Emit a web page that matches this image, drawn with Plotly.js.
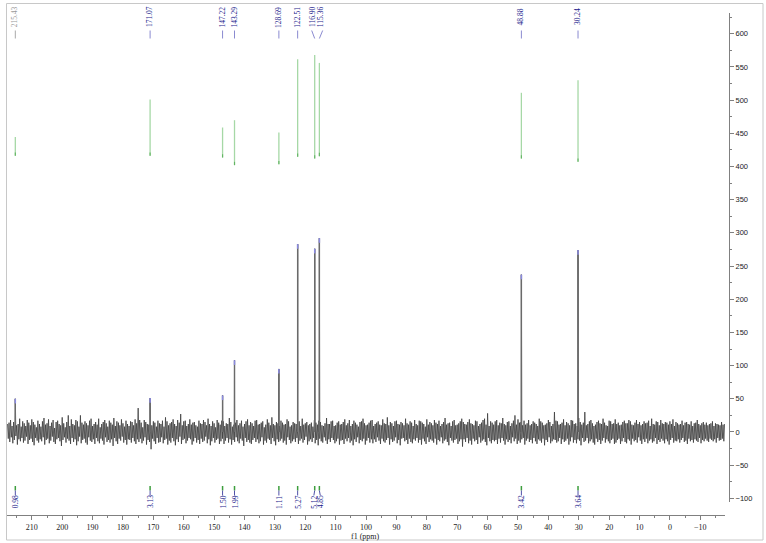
<!DOCTYPE html>
<html>
<head>
<meta charset="utf-8">
<script src="https://cdn.plot.ly/plotly-3.0.1.min.js"></script>
<style>html,body{margin:0;padding:0;background:#fff;}#chart{width:766px;height:543px;}</style>
</head>
<body>
<div id="chart"></div>
<script>
// ---- data ----
const peakPpm    = [215.43, 171.07, 147.22, 143.29, 128.69, 122.51, 116.90, 115.36, 48.88, 30.24];
const peakHeight = [50, 51, 55, 108, 95, 283, 276, 292, 237, 274];
const peakLabels = ['215.43','171.07','147.22','143.29','128.69','122.51','116.90','115.36','48.88','30.24'];
const integralLow  = [416, 416, 413.5, 402, 403.4, 414.5, 412, 415.5, 412, 407];
const integralHigh = [444.5, 501, 458.7, 469.7, 451, 561.5, 568, 556, 511, 530];
const integralLabels = ['0.98','3.13','1.50','1.99','1.11','5.27','5.12','4.85','3.42','3.64'];
const noiseStartPpm = 218;
const noiseStepPpm = 0.5;
// upward noise excursions on the 0.5 ppm grid (218, 217.5, ...)
const noiseUp = [
12,14,18,9,15,17,10,12,20,8,16,13,9,18,14,10,19,15,11,7,
17,12,8,16,21,11,13,19,9,14,18,6,15,17,12,10,22,13,7,15,
25,9,19,12,10,18,16,8,25,14,11,16,13,10,17,20,9,12,15,11,
20,7,12,15,18,13,8,17,14,11,21,9,16,14,10,19,13,8,17,12,
9,16,15,10,19,13,36,18,14,7,18,15,12,11,14,10,16,14,8,17,
13,12,17,8,22,16,10,13,15,19,12,9,18,14,27,10,16,17,9,12,
19,11,14,15,10,8,17,13,12,18,15,10,20,12,9,16,13,7,18,14,
11,17,16,9,13,12,21,15,8,11,14,18,10,13,17,8,12,16,19,10,
15,13,9,17,18,11,12,14,16,7,11,19,14,10,22,12,10,15,13,9,
17,14,11,12,19,16,8,10,15,13,12,18,16,9,20,11,13,15,10,12,
14,8,18,14,11,17,15,10,9,13,21,12,12,16,17,9,10,14,16,11,
12,15,19,10,13,18,9,12,17,14,11,8,15,16,20,13,10,11,14,17,
18,9,12,14,16,11,10,19,13,12,22,10,15,13,9,16,17,12,11,15,
13,10,20,13,11,16,14,9,18,12,10,17,16,14,12,8,19,11,15,13,
10,18,14,12,17,9,12,15,21,11,13,14,9,16,18,10,11,13,16,20,
15,12,11,15,19,13,12,10,17,16,9,12,14,18,20,11,28,9,16,14,
11,16,18,10,14,13,21,12,10,15,16,9,13,17,25,11,19,14,15,10,
17,11,13,18,10,12,16,14,12,9,20,16,14,10,11,13,18,15,9,12,
30,17,16,11,12,14,19,10,15,13,10,18,17,12,13,9,21,15,11,14,
30,10,12,16,18,13,9,11,15,17,13,12,20,14,10,9,17,16,12,13,
19,12,14,10,11,15,17,13,13,18,16,11,10,14,18,12,15,10,12,16,
13,14,17,9,20,12,11,16,15,10,18,13,12,15,14,11,16,12,19,9,
15,13,11,12,17,10,14,15,12,11,16,9,13,14,18,12,10,13,15,11,
14,10,12,13,16,9,13,12,11,10,15,11,12
];
// downward noise excursions on the in-between points (217.75, 217.25, ...)
const noiseDown = [
-10,-15,-8,-17,-12,-6,-19,-11,-14,-9,-16,-13,-7,-18,-12,-10,-15,-20,-9,-13,
-16,-11,-14,-8,-19,-12,-10,-17,-13,-7,-15,-18,-11,-9,-14,-21,-12,-8,-16,-10,
-13,-18,-9,-15,-11,-20,-14,-7,-17,-12,-10,-16,-19,-8,-13,-15,-11,-18,-9,-14,
-17,-10,-13,-19,-8,-15,-12,-16,-11,-21,-9,-14,-18,-10,-13,-7,-16,-12,-19,-11,
-12,-16,-9,-14,-18,-11,-15,-10,-17,-13,-8,-19,-12,-15,-26,-10,-14,-18,-9,-16,
-15,-8,-17,-12,-10,-19,-13,-16,-9,-14,-20,-11,-15,-7,-18,-12,-10,-17,-13,-9,
-11,-19,-14,-9,-16,-12,-18,-10,-15,-13,-7,-17,-11,-20,-14,-9,-16,-12,-10,-18,
-14,-10,-18,-13,-9,-16,-11,-19,-12,-15,-8,-14,-17,-10,-13,-21,-9,-15,-12,-16,
-18,-12,-9,-15,-11,-17,-14,-8,-19,-13,-16,-10,-12,-18,-9,-14,-20,-11,-15,-13,
-10,-16,-13,-19,-8,-12,-17,-14,-11,-15,-9,-18,-13,-10,-16,-12,-7,-19,-14,-11,
-15,-9,-17,-12,-20,-10,-14,-16,-8,-13,-18,-11,-15,-9,-12,-17,-14,-10,-19,-13,
-12,-18,-10,-14,-9,-16,-13,-20,-11,-15,-8,-17,-12,-14,-10,-19,-13,-9,-16,-11,
-17,-11,-15,-8,-13,-18,-10,-14,-16,-12,-9,-19,-11,-15,-13,-8,-17,-12,-20,-10,
-9,-14,-12,-18,-10,-15,-17,-11,-13,-9,-16,-12,-19,-10,-14,-18,-8,-15,-11,-13,
-16,-10,-19,-12,-14,-8,-17,-13,-11,-15,-20,-9,-13,-16,-12,-10,-18,-14,-11,-22,
-11,-15,-9,-17,-13,-19,-10,-14,-12,-18,-8,-16,-13,-11,-15,-20,-9,-14,-17,-12,
-14,-12,-18,-10,-16,-9,-13,-19,-11,-15,-12,-17,-8,-14,-10,-18,-13,-16,-11,-9,
-19,-13,-10,-15,-12,-17,-9,-14,-18,-11,-13,-16,-10,-20,-12,-15,-8,-17,-14,-11,
-12,-16,-14,-9,-18,-11,-15,-13,-10,-19,-14,-8,-16,-12,-17,-11,-13,-20,-9,-15,
-13,-9,-17,-14,-11,-16,-19,-10,-15,-12,-18,-13,-9,-16,-11,-14,-17,-12,-10,-18,
-16,-12,-10,-18,-14,-9,-15,-17,-11,-13,-19,-10,-14,-12,-16,-8,-13,-18,-11,-15,
-10,-17,-13,-11,-16,-14,-9,-18,-12,-15,-10,-13,-17,-11,-14,-19,-12,-9,-16,-13,
-14,-11,-16,-12,-9,-15,-13,-18,-10,-14,-12,-16,-11,-13,-15,-9,-17,-12,-14,-10,
-13,-15,-10,-12,-14,-11,-16,-9,-13,-12,-10,-14
];

// ---- build spectrum ----
let pts = noiseUp.map((v, i) => [noiseStartPpm - i * noiseStepPpm, v]);
noiseDown.forEach((v, i) => pts.push([noiseStartPpm - (i + 0.5) * noiseStepPpm, v]));
peakPpm.forEach((p, k) => {
  pts.push([p + 0.06, 0], [p, peakHeight[k]], [p - 0.06, 0]);
});
pts.sort((a, b) => b[0] - a[0]);

const spectrum = {
  x: pts.map(d => d[0]), y: pts.map(d => d[1]),
  type: 'scatter', mode: 'lines',
  line: {color: '#3c3c3c', width: 0.8},
  hoverinfo: 'skip'
};

function segs(xs, y0s, y1s) {
  const X = [], Y = [];
  xs.forEach((x, i) => { X.push(x, x, null); Y.push(y0s[i], y1s[i], null); });
  return {X, Y};
}
// peak sticks drawn a little heavier, as in the reference
const stickS = segs(peakPpm, peakHeight.map(() => 0), peakHeight);
const sticks = {x: stickS.X, y: stickS.Y, type: 'scatter', mode: 'lines',
  line: {color: '#6a6a6a', width: 1.4}, hoverinfo: 'skip'};

const tipS = segs(peakPpm, peakHeight, peakHeight.map(h => h - 7));
const tips = {x: tipS.X, y: tipS.Y, type: 'scatter', mode: 'lines',
  line: {color: '#8a8ae0', width: 1.5}, hoverinfo: 'skip'};

const intS = segs(peakPpm, integralLow, integralHigh);
const integrals = {x: intS.X, y: intS.Y, type: 'scatter', mode: 'lines',
  line: {color: '#a6d8a6', width: 1.3}, hoverinfo: 'skip'};
const intB = segs(peakPpm, integralLow, integralLow.map(v => v + 5));
const integralsBase = {x: intB.X, y: intB.Y, type: 'scatter', mode: 'lines',
  line: {color: '#62b462', width: 1.1}, hoverinfo: 'skip'};

// ---- layout geometry ----
const W = 766, H = 543, L = 7, R = 37, T = 13, B = 28;
const pw = W - L - R, ph = H - T - B;
const px = x => (x - L) / pw;            // pixel -> paper x
const py = y => (H - B - y) / ph;        // pixel -> paper y

const topShift = {6: 0.55, 7: -0.6};      // label offsets (ppm) for crowded pair
const shapes = [];
const annotations = [];
peakPpm.forEach((p, k) => {
  const sh = topShift[k] || 0;
  const isGray = k === 0;
  annotations.push({
    x: p + sh, xref: 'x', y: py(17), yref: 'paper',
    text: peakLabels[k], showarrow: false, textangle: -90,
    xanchor: 'center', yanchor: 'middle',
    font: {family: 'Liberation Serif', size: 7.5, color: isGray ? '#9a9a9a' : '#1a1a8c'}
  });
  shapes.push({type: 'line', xref: 'x', yref: 'paper',
    x0: p + sh * 1.8, x1: p, y0: py(30.5), y1: py(38.5),
    line: {color: isGray ? '#aaaaaa' : '#8a8ad0', width: 1}});
  // bottom integral labels
  annotations.push({
    x: p + sh * 0.5, xref: 'x', y: py(502), yref: 'paper',
    text: integralLabels[k], showarrow: false, textangle: -90,
    xanchor: 'center', yanchor: 'middle',
    font: {family: 'Liberation Serif', size: 7.5, color: '#1a1a8c'}
  });
  shapes.push({type: 'line', xref: 'x', yref: 'paper',
    x0: p, x1: p, y0: py(486), y1: py(490.5),
    line: {color: '#3d9e3d', width: 1.5}});
  shapes.push({type: 'line', xref: 'x', yref: 'paper',
    x0: p, x1: p + sh * 0.5, y0: py(490.5), y1: py(495.5),
    line: {color: '#5050a8', width: 1}});
});
// outer frame
shapes.push({type: 'rect', xref: 'paper', yref: 'paper',
  x0: px(6.5), x1: px(763), y0: py(540), y1: py(3.5),
  line: {color: '#c8c8c8', width: 1}, fillcolor: 'rgba(0,0,0,0)'});

annotations.push({
  x: px(365), xref: 'paper', y: py(536), yref: 'paper',
  text: 'f1 (ppm)', showarrow: false, xanchor: 'center', yanchor: 'middle',
  font: {family: 'Liberation Serif', size: 8, color: '#222'}
});

const pxToPpm = x => (669.9 - x) / 3.0385;
const layout = {
  width: W, height: H,
  margin: {l: L, r: R, t: T, b: B, pad: 0},
  paper_bgcolor: '#fff', plot_bgcolor: '#fff',
  showlegend: false,
  xaxis: {
    domain: [0, px(725)],
    range: [pxToPpm(L), pxToPpm(725)],
    anchor: 'free', position: 0,
    showline: true, linecolor: '#808080', linewidth: 1,
    showgrid: false, zeroline: false,
    tick0: 0, dtick: 10, ticks: 'outside', ticklen: 4, tickcolor: '#808080',
    minor: {dtick: 5, ticks: 'outside', ticklen: 2, tickcolor: '#808080'},
    tickfont: {family: 'Liberation Serif', size: 8, color: '#222'}
  },
  yaxis: {
    domain: [py(502), 1],
    range: [-105.5, 631.2],
    side: 'right', anchor: 'free', position: 1,
    showline: true, linecolor: '#808080', linewidth: 1,
    showgrid: false, zeroline: false,
    tick0: 0, dtick: 50, ticks: 'outside', ticklen: 4, tickcolor: '#808080',
    minor: {dtick: 25, ticks: 'outside', ticklen: 2, tickcolor: '#808080'},
    tickfont: {family: 'Liberation Sans', size: 7.5, color: '#222'}
  },
  shapes, annotations
};

Plotly.newPlot('chart', [spectrum, sticks, tips, integrals, integralsBase], layout, {staticPlot: true, displayModeBar: false});
</script>
</body>
</html>
